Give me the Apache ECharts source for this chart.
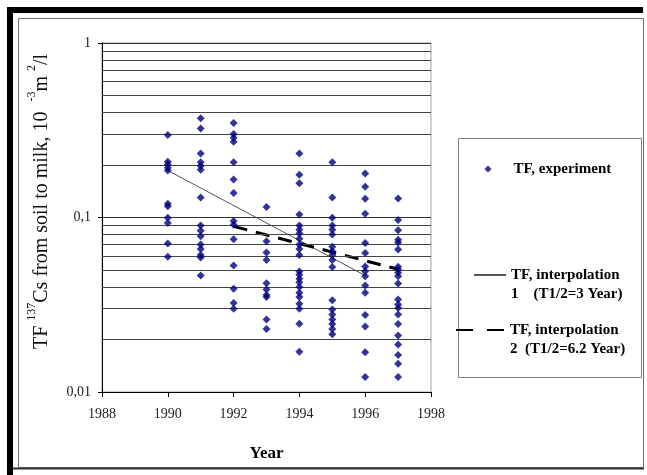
<!DOCTYPE html>
<html>
<head>
<meta charset="utf-8">
<script src="https://cdn.jsdelivr.net/npm/echarts@6/dist/echarts.min.js"></script>
<style>
  html, body { margin: 0; padding: 0; background: #fff; }
  #chart { width: 647px; height: 475px; }
</style>
</head>
<body>
<div id="chart"></div>
<script>
// Measured transfer factors (TF) of 137Cs from soil to milk, by year
const tf1990 = [0.297, 0.209, 0.201, 0.193, 0.186, 0.120, 0.116, 0.0996, 0.093, 0.071, 0.0595];
const tf1991 = [0.371, 0.324, 0.233, 0.207, 0.197, 0.188, 0.130, 0.090, 0.084, 0.078, 0.070, 0.066, 0.061, 0.059, 0.0465];
const tf1992 = [0.348, 0.301, 0.286, 0.272, 0.207, 0.165, 0.138, 0.0955, 0.091, 0.075, 0.053, 0.039, 0.0324, 0.030];
const tf1993 = [0.115, 0.073, 0.063, 0.057, 0.042, 0.0387, 0.036, 0.035, 0.026, 0.023];
const tf1994 = [0.233, 0.176, 0.157, 0.104, 0.090, 0.085, 0.081, 0.0755, 0.070, 0.066, 0.061, 0.049, 0.047, 0.0445, 0.0426, 0.040, 0.037, 0.035, 0.032, 0.030, 0.0246, 0.017];
const tf1995 = [0.207, 0.130, 0.0996, 0.090, 0.085, 0.080, 0.068, 0.064, 0.061, 0.057, 0.052, 0.0336, 0.0297, 0.0278, 0.026, 0.0245, 0.023, 0.0214];
const tf1996 = [0.179, 0.150, 0.128, 0.105, 0.0714, 0.0626, 0.0524, 0.0492, 0.0461, 0.0408, 0.037, 0.0276, 0.0237, 0.0169, 0.0122];
const tf1997 = [0.1285, 0.0968, 0.0846, 0.0745, 0.0719, 0.0656, 0.0522, 0.0504, 0.0482, 0.0461, 0.0419, 0.0339, 0.0317, 0.0303, 0.0278, 0.0245, 0.0211, 0.0187, 0.0163, 0.0145, 0.0122];

const sampleYears = [1990, 1991, 1992, 1993, 1994, 1995, 1996, 1997];
const samplesByYear = [tf1990, tf1991, tf1992, tf1993, tf1994, tf1995, tf1996, tf1997];

// Exponential fits (straight lines on the log axis)
const interp1Years = [1990, 1996];
const interp1Values = [0.186, 0.0465];
const interp2Years = [1992, 1997];
const interp2Values = [0.089, 0.0505];

// Intermediate horizontal rules of the log grid
const minorGridValues = [0.02, 0.03, 0.04, 0.05, 0.06, 0.07, 0.08, 0.09,
                         0.2, 0.3, 0.4, 0.5, 0.6, 0.7, 0.8, 0.9];

const xTicks = { min: 1988, max: 1998, step: 2 };

const seriesNames = ['TF, experiment', 'TF, interpolation 1 (T1/2=3 Year)', 'TF, interpolation 2 (T1/2=6.2 Year)'];

const scatterData = [];
sampleYears.forEach((yr, i) => samplesByYear[i].forEach(v => scatterData.push([yr, v])));
const line1Data = interp1Years.map((yr, i) => [yr, interp1Values[i]]);
const line2Data = interp2Years.map((yr, i) => [yr, interp2Values[i]]);

const serif = 'Liberation Serif, Times New Roman, serif';
const legendText = {
  fontFamily: serif, fontWeight: 'bold', fontSize: 15, color: '#000',
  rich: {
    t: { fontFamily: serif, fontWeight: 'bold', fontSize: 15, lineHeight: 19, color: '#000' },
    p: { fontFamily: serif, fontWeight: 'bold', fontSize: 15, lineHeight: 19, color: '#000', padding: [0, 0, 0, 17] }
  }
};

const chart = echarts.init(document.getElementById('chart'), null, { renderer: 'canvas' });
chart.setOption({
  animation: false,
  backgroundColor: '#fff',
  graphic: [
    { type: 'rect', z: 0, shape: { x: 7, y: 7, width: 636, height: 6 }, style: { fill: '#000' } },
    { type: 'rect', z: 0, shape: { x: 7, y: 7, width: 6, height: 468 }, style: { fill: '#000' } },
    { type: 'rect', z: 0, shape: { x: 18.5, y: 18.5, width: 625, height: 449 }, style: { fill: 'none', stroke: '#707070', lineWidth: 1 } },
    { type: 'line', z: 0, shape: { x1: 13, y1: 468.5, x2: 644, y2: 468.5 }, style: { stroke: '#333', lineWidth: 2 } },
    { type: 'rect', z: 0, shape: { x: 458.5, y: 138.5, width: 183, height: 239 }, style: { fill: '#fff', stroke: '#808080', lineWidth: 1 } }
  ],
  grid: {
    left: 102, top: 43, right: 216, bottom: 83,
    show: true, borderColor: '#a0a0a0', borderWidth: 1, backgroundColor: '#fff'
  },
  legend: [
    {
      z: 10, padding: 0, left: 484.5, top: 161.5,
      data: [{ name: seriesNames[0], icon: 'diamond' }],
      itemWidth: 7, itemHeight: 7,
      formatter: () => '{p|TF, experiment}',
      textStyle: legendText
    },
    {
      z: 10, padding: 0, left: 473, top: 248.5,
      data: [{ name: seriesNames[1], itemStyle: { opacity: 0 } }],
      itemWidth: 32, itemHeight: 14,
      formatter: () => '{t| }\n{t|TF, interpolation}\n{t|1    (T1/2=3 Year)}',
      textStyle: legendText
    },
    {
      z: 10, padding: 0, left: 455, top: 303.5,
      data: [{ name: seriesNames[2], itemStyle: { opacity: 0 }, lineStyle: { type: [17, 14] } }],
      itemWidth: 49, itemHeight: 14,
      formatter: () => '{t| }\n{t|TF, interpolation}\n{t|2  (T1/2=6.2 Year)}',
      textStyle: legendText
    }
  ],
  xAxis: {
    type: 'value',
    min: xTicks.min, max: xTicks.max, interval: xTicks.step,
    name: 'Year', nameLocation: 'middle', nameGap: 53,
    nameTextStyle: { fontFamily: serif, fontWeight: 'bold', fontSize: 17, color: '#000' },
    axisLine: { show: true, lineStyle: { color: '#000', width: 1 } },
    axisTick: { show: true, inside: false, length: 5, lineStyle: { color: '#000' } },
    axisLabel: { margin: 15, fontFamily: serif, fontSize: 14, color: '#222', formatter: v => String(v) },
    splitLine: { show: false }
  },
  yAxis: {
    type: 'log', logBase: 10, min: 0.01, max: 1,
    name: '{b|TF }{s|137}{b|Cs from soil to milk, 10  }{s|-3}{b|m }{s|2}{b|/l}',
    nameLocation: 'middle', nameRotate: 90, nameGap: 50,
    nameTextStyle: {
      padding: [0, 0, 0, 32],
      rich: {
        b: { fontFamily: serif, fontSize: 20, lineHeight: 26, verticalAlign: 'bottom', color: '#111' },
        s: { fontFamily: serif, fontSize: 12, lineHeight: 13, verticalAlign: 'top', color: '#111' }
      }
    },
    axisLine: { show: true, lineStyle: { color: '#000', width: 1 } },
    axisTick: { show: true, inside: false, length: 4, lineStyle: { color: '#000' } },
    axisLabel: { margin: 11, fontFamily: serif, fontSize: 14, color: '#222', formatter: v => String(v).replace('.', ',') },
    splitLine: { show: true, lineStyle: { color: '#333', width: 1 } }
  },
  series: [
    {
      name: seriesNames[1], type: 'line', data: line1Data, symbol: 'none', z: 3,
      lineStyle: { color: '#555', width: 1 }, itemStyle: { color: '#555' },
      markLine: {
        silent: true, symbol: ['none', 'none'], label: { show: false }, animation: false,
        lineStyle: { color: '#444', width: 1, type: 'solid' },
        data: minorGridValues.map(v => ({ yAxis: v }))
      }
    },
    {
      name: seriesNames[2], type: 'line', data: line2Data, symbol: 'none', z: 3,
      lineStyle: { color: '#000', width: 3, type: [14, 9] }, itemStyle: { color: '#000' }
    },
    {
      name: seriesNames[0], type: 'scatter', data: scatterData, z: 5,
      symbol: 'diamond', symbolSize: 8,
      itemStyle: { color: '#000080' }
    }
  ]
});
</script>
</body>
</html>
